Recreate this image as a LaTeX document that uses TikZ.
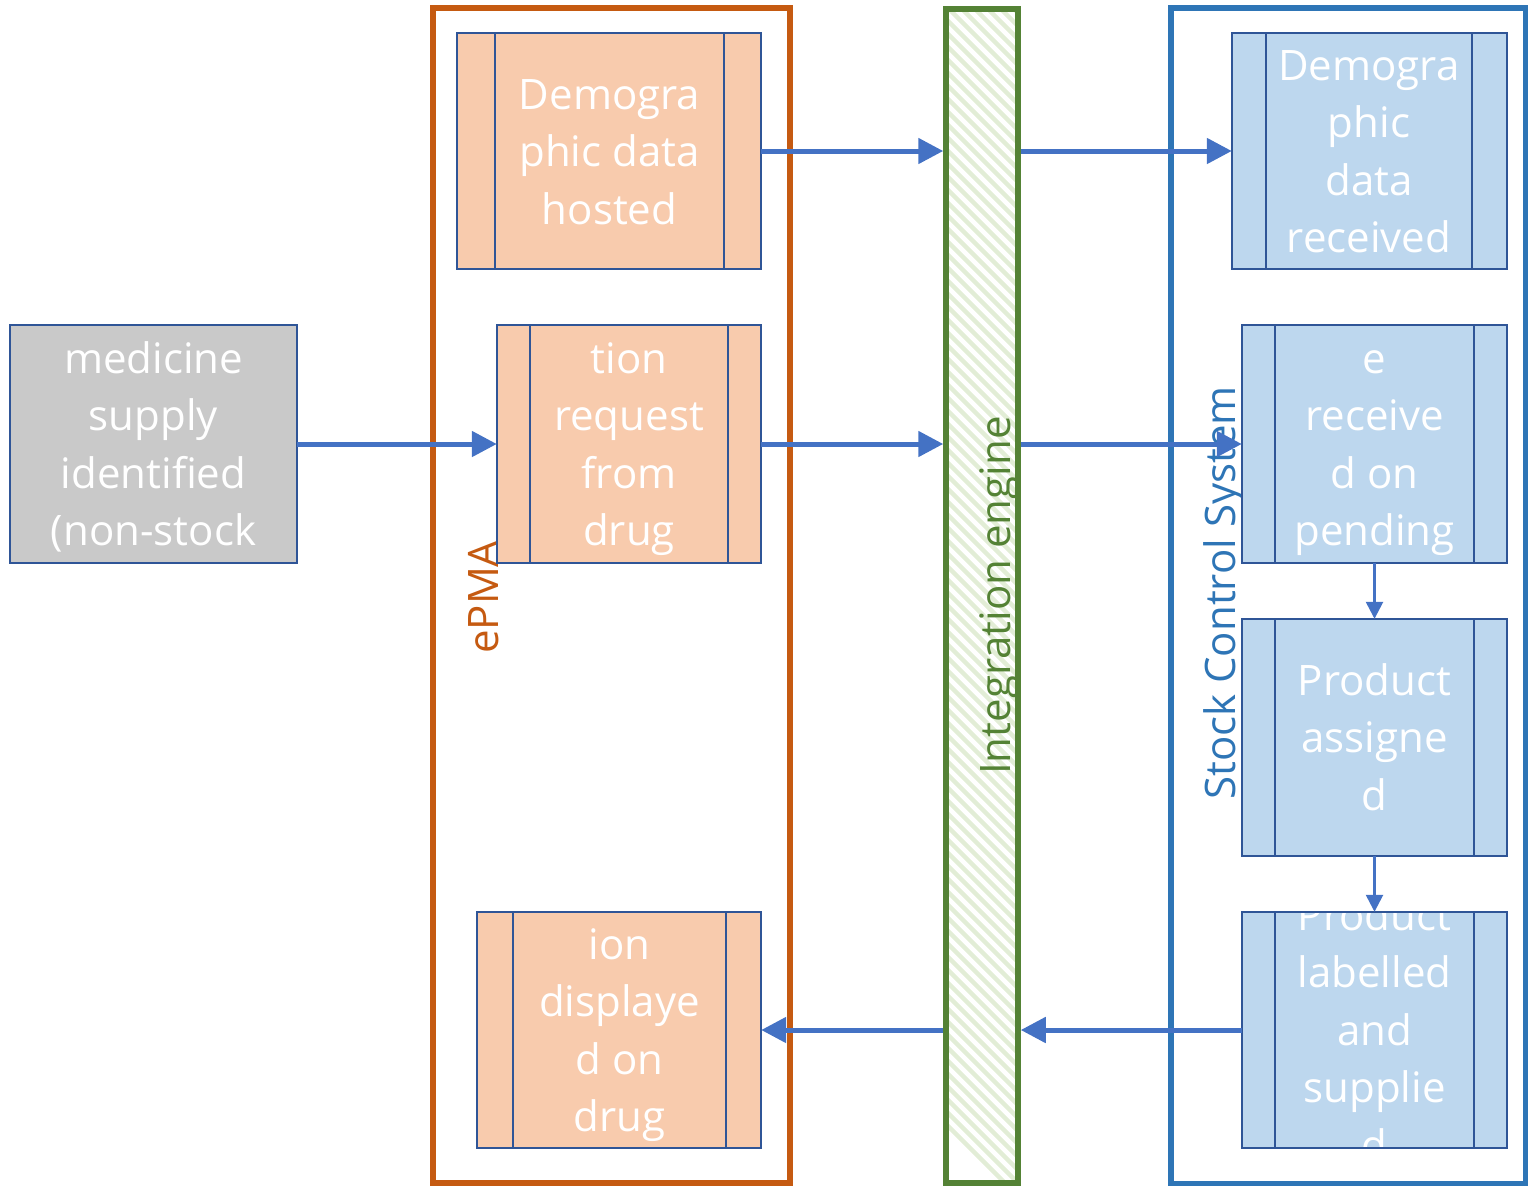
\documentclass[tikz,border=0pt]{standalone}
\usepackage{fontspec}
\setmainfont{Open Sans}
\usetikzlibrary{arrows.meta,fit}

\definecolor{epmaorange}{HTML}{C55A11}
\definecolor{enggreen}{HTML}{548235}
\definecolor{hatchgreen}{HTML}{E2EDD6}
\definecolor{stockblue}{HTML}{2E75B6}
\definecolor{boxedge}{HTML}{2F5597}
\definecolor{arrowblue}{HTML}{4472C4}
\definecolor{peach}{HTML}{F8CBAD}
\definecolor{paleblue}{HTML}{BDD7EE}
\definecolor{greybox}{HTML}{C9C9C9}

\tikzset{
  frame/.style={draw, line width=5.5pt, fill=none},
  boxfill/.style={fit={#1}, inner sep=0pt, draw=none},
  boxline/.style={draw=boxedge, line width=2.3pt},
  txt/.style={text=white, anchor=base, inner sep=0pt,
    font=\fontsize{42}{57.5}\selectfont},
  lab/.style={anchor=base west, inner sep=0pt, rotate=90,
    font=\fontsize{42}{57.5}\selectfont},
  arr/.style={draw=arrowblue, line width=5pt,
    -{Triangle[length=25pt,width=25pt]}},
  thinarr/.style={draw=arrowblue, line width=2.5pt,
    -{Triangle[length=17pt,width=17pt]}},
}

\begin{document}
\begin{tikzpicture}[x=1pt,y=-1pt]
\useasboundingbox (0,0) rectangle (1528,1186);

% lane frames
\node[frame, draw=epmaorange, fit={(433,8) (790,1183)}, inner sep=0pt] (epma) {};
\node[frame, draw=stockblue, fit={(1171,8) (1525.5,1183.5)}, inner sep=0pt] (stock) {};

% integration engine bar with diagonal hatching
\begin{scope}
  \clip (946,8) rectangle (1018,1184);
  \foreach \k in {0,...,92}
    \draw[hatchgreen, line width=4.5pt] (1018-13*\k,0) -- ++(1200,1200);
\end{scope}
\node[draw=enggreen, line width=5.5pt, fit={(946,9) (1018,1183)}, inner sep=0pt] (bar) {};

% lane labels
\node[lab, text=epmaorange] (epmalab) at (498,654) {ePMA};
\node[lab, text=enggreen] (englab) at (1010,775) {Integration engine};
\node[lab, text=stockblue] (stocklab) at (1235,800) {Stock Control System};

% box fills
\node[boxfill={(457,33) (761,269)}, fill=peach] (a1) {};
\node[boxfill={(497,325) (761,563)}, fill=peach] (a2) {};
\node[boxfill={(477,912) (761,1148)}, fill=peach] (a3) {};
\node[boxfill={(10,325) (297,563)}, fill=greybox] (g) {};
\node[boxfill={(1232,33) (1507,269)}, fill=paleblue] (b1) {};
\node[boxfill={(1242,325) (1507,563)}, fill=paleblue] (b2) {};
\node[boxfill={(1242,619) (1507,856)}, fill=paleblue] (b3) {};
\node[boxfill={(1242,912) (1507,1148)}, fill=paleblue] (b4) {};

% box texts, cut off at the box edges
\begin{scope}
  \clip (457,33) rectangle (761,269);
  \node[txt] (a1l1) at (609.5,109) {Demogra};
  \node[txt] (a1l2) at (609.5,166.5) {phic data};
  \node[txt] (a1l3) at (609.5,224) {hosted};
\end{scope}
\begin{scope}
  \clip (497,325) rectangle (761,563);
  \node[txt] (a2l1) at (629,373) {tion};
  \node[txt] (a2l2) at (629,430.5) {request};
  \node[txt] (a2l3) at (629,488) {from};
  \node[txt] (a2l4) at (629,545.5) {drug};
\end{scope}
\begin{scope}
  \clip (477,912) rectangle (761,1148);
  \node[txt] (a3l1) at (619.5,959) {ion};
  \node[txt] (a3l2) at (619.5,1016.5) {displaye};
  \node[txt] (a3l3) at (619.5,1074) {d on};
  \node[txt] (a3l4) at (619.5,1131.5) {drug};
\end{scope}
\begin{scope}
  \clip (10,325) rectangle (297,563);
  \node[txt] (gl1) at (153.5,373) {medicine};
  \node[txt] (gl2) at (153.5,430.5) {supply};
  \node[txt] (gl3) at (153.5,488) {identified};
  \node[txt] (gl4) at (153.5,545.5) {(non-stock};
\end{scope}
\begin{scope}
  \clip (1232,33) rectangle (1507,269);
  \node[txt] (b1l1) at (1369,80) {Demogra};
  \node[txt] (b1l2) at (1369,137.5) {phic};
  \node[txt] (b1l3) at (1369,195) {data};
  \node[txt] (b1l4) at (1369,252.5) {received};
\end{scope}
\begin{scope}
  \clip (1242,325) rectangle (1507,563);
  \node[txt] (b2l1) at (1374.5,373) {e};
  \node[txt] (b2l2) at (1374.5,430.5) {receive};
  \node[txt] (b2l3) at (1374.5,488) {d on};
  \node[txt] (b2l4) at (1374.5,545.5) {pending};
\end{scope}
\begin{scope}
  \clip (1242,619) rectangle (1507,856);
  \node[txt] (b3l1) at (1374.5,695) {Product};
  \node[txt] (b3l2) at (1374.5,752.5) {assigne};
  \node[txt] (b3l3) at (1374.5,810) {d};
\end{scope}
\begin{scope}
  \clip (1242,912) rectangle (1507,1148);
  \node[txt] (b4l1) at (1374.5,930) {Product};
  \node[txt] (b4l2) at (1374.5,987.5) {labelled};
  \node[txt] (b4l3) at (1374.5,1045) {and};
  \node[txt] (b4l4) at (1374.5,1102.5) {supplie};
  \node[txt] (b4l5) at (1374.5,1160) {d};
\end{scope}

% box outlines with the side bands of the process shape
\draw[boxline] (a1.north west) rectangle (a1.south east)
  (495,33) -- (495,269) (724,33) -- (724,269);
\draw[boxline] (a2.north west) rectangle (a2.south east)
  (530,325) -- (530,563) (728,325) -- (728,563);
\draw[boxline] (a3.north west) rectangle (a3.south east)
  (513,912) -- (513,1148) (726,912) -- (726,1148);
\draw[boxline] (g.north west) rectangle (g.south east);
\draw[boxline] (b1.north west) rectangle (b1.south east)
  (1266,33) -- (1266,269) (1472,33) -- (1472,269);
\foreach \b/\ya/\yb in {b2/325/563, b3/619/856, b4/912/1148}
  \draw[boxline] (\b.north west) rectangle (\b.south east)
    (1275,\ya) -- (1275,\yb) (1474,\ya) -- (1474,\yb);

% connectors
\draw[arr] (a1.east) -- (a1.east -| bar.west);
\draw[arr] (a1.east -| bar.east) -- (b1.west);
\draw[arr] (g.east) -- (a2.west);
\draw[arr] (a2.east) -- (a2.east -| bar.west);
\draw[arr] (a2.east -| bar.east) -- (b2.west);
\draw[thinarr] (b2.south) -- (b3.north);
\draw[thinarr] (b3.south) -- (b4.north);
\draw[arr] (b4.west) -- (b4.west -| bar.east);
\draw[arr] (a3.east -| bar.west) -- (a3.east);
\end{tikzpicture}
\end{document}
